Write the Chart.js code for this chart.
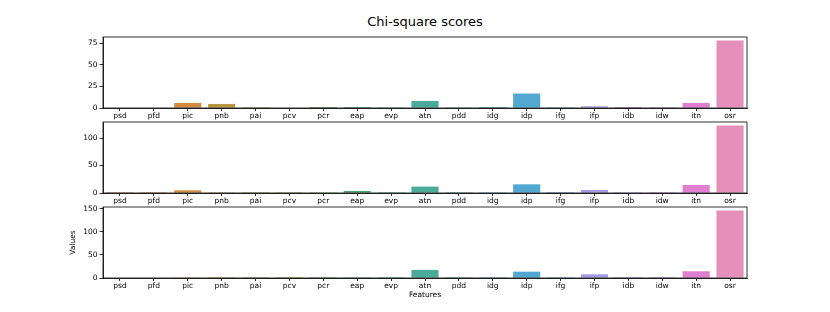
<!DOCTYPE html>
<html>
<head>
<meta charset="utf-8">
<script src="https://cdn.jsdelivr.net/npm/chart.js@4.4.0/dist/chart.umd.min.js"></script>
<style>
    body { margin: 0; background: #fff; }
    #wrap { position: relative; width: 830px; height: 312px; }
    #wrap canvas { position: absolute; left: 0; }
    #title { position: absolute; top: 14px; left: 103px; width: 644px; text-align: center;
             font-family: 'DejaVu Sans'; font-size: 13px; color: #000; }
</style>
</head>
<body>
<div id="wrap">
    <div id="title">Chi-square scores</div>
    <canvas id="panel1" width="830" height="95" style="top:27px"></canvas>
    <canvas id="panel2" width="830" height="95" style="top:112px"></canvas>
    <canvas id="panel3" width="830" height="115" style="top:197px"></canvas>
</div>
<script>
// Features
var features = ['psd', 'pfd', 'pic', 'pnb', 'pai', 'pcv', 'pcr', 'eap', 'evp', 'atn',
                'pdd', 'idg', 'idp', 'ifg', 'ifp', 'idb', 'idw', 'itn', 'osr'];

// Chi-square scores, one array per panel
var scores1 = [0, 0, 5.9, 4.7, 0.1, 0.5, 1.2, 1.2, 0.2, 8.2, 0.2, 1.2, 16.8, 0.8, 2.0, 1.2, 0.1, 5.9, 78.5];
var scores2 = [0.1, 0.1, 4.9, 0.2, 0.1, 0.2, 0.3, 3.7, 0.2, 11.6, 0.1, 0.3, 15.8, 1.5, 5.5, 0.3, 0.2, 14.6, 123];
var scores3 = [0, 0, 0.5, 0.1, 0.1, 0.1, 0.1, 0.3, 0.1, 17.5, 0.1, 0.2, 13.8, 0.2, 8.0, 0.1, 0.1, 14.6, 146.4];

// y tick labels
var ticks1 = [0, 25, 50, 75];
var ticks2 = [0, 50, 100];
var ticks3 = [0, 50, 100, 150];

var colores = ['#d7746f', '#d17e47', '#d18a3f', '#b9963f', '#9a9d3a', '#82a33a', '#5aa745',
               '#46a76e', '#47a687', '#4aab9b', '#4aa7a6', '#4ba6b4', '#51a9d1', '#6a9ad9',
               '#a59ae6', '#b583de', '#cf79d8', '#e07fd0', '#e78fbb'];

// marco negro alrededor del área del gráfico
var marco = {
    id: 'marco',
    afterDraw: function (chart) {
        var a = chart.chartArea, ctx = chart.ctx;
        ctx.save();
        ctx.strokeStyle = '#000';
        ctx.lineWidth = 0.8;
        ctx.strokeRect(a.left, a.top, a.right - a.left, a.bottom - a.top);
        ctx.restore();
    }
};

function panel(id, scores, ticks, xHeight, padLeft, last) {
    var fuente = { family: 'DejaVu Sans', size: 7.5 };
    new Chart(document.getElementById(id), {
        type: 'bar',
        data: {
            labels: features,
            datasets: [{
                data: scores,
                backgroundColor: colores,
                borderWidth: 0,
                categoryPercentage: 1.0,
                barPercentage: 0.8
            }]
        },
        plugins: [marco],
        options: {
            responsive: false,
            animation: false,
            layout: { padding: { top: 10, right: 83, left: padLeft, bottom: 0 } },
            scales: {
                x: {
                    offset: true,
                    grid: { drawOnChartArea: false, offset: false, tickLength: 3, color: '#000', lineWidth: 0.8 },
                    border: { color: '#000', width: 0.8 },
                    ticks: { font: fuente, color: '#000', padding: 1, maxRotation: 0, autoSkip: false },
                    title: { display: last, text: 'Features', font: fuente, color: '#000', padding: { top: 0, bottom: 12 } },
                    afterFit: function (s) { s.height = xHeight; }
                },
                y: {
                    min: 0,
                    max: Math.max.apply(null, scores) * 1.05,
                    grid: { drawOnChartArea: false, tickLength: 3.5, color: '#000', lineWidth: 0.8 },
                    border: { color: '#000', width: 0.8 },
                    ticks: { font: fuente, color: '#000', padding: 2 },
                    title: { display: last, text: 'Values', font: fuente, color: '#000', padding: { top: 7, bottom: 0 } },
                    afterBuildTicks: function (s) {
                        s.ticks = ticks.map(function (v) { return { value: v }; });
                    },
                    afterFit: function (s) { s.width = 103 - padLeft; }
                }
            },
            plugins: {
                legend: { display: false },
                tooltip: { enabled: false }
            }
        }
    });
}

panel('panel1', scores1, ticks1, 14, 0, false);
panel('panel2', scores2, ticks2, 14, 0, false);
panel('panel3', scores3, ticks3, 34, 62, true);
</script>
</body>
</html>
